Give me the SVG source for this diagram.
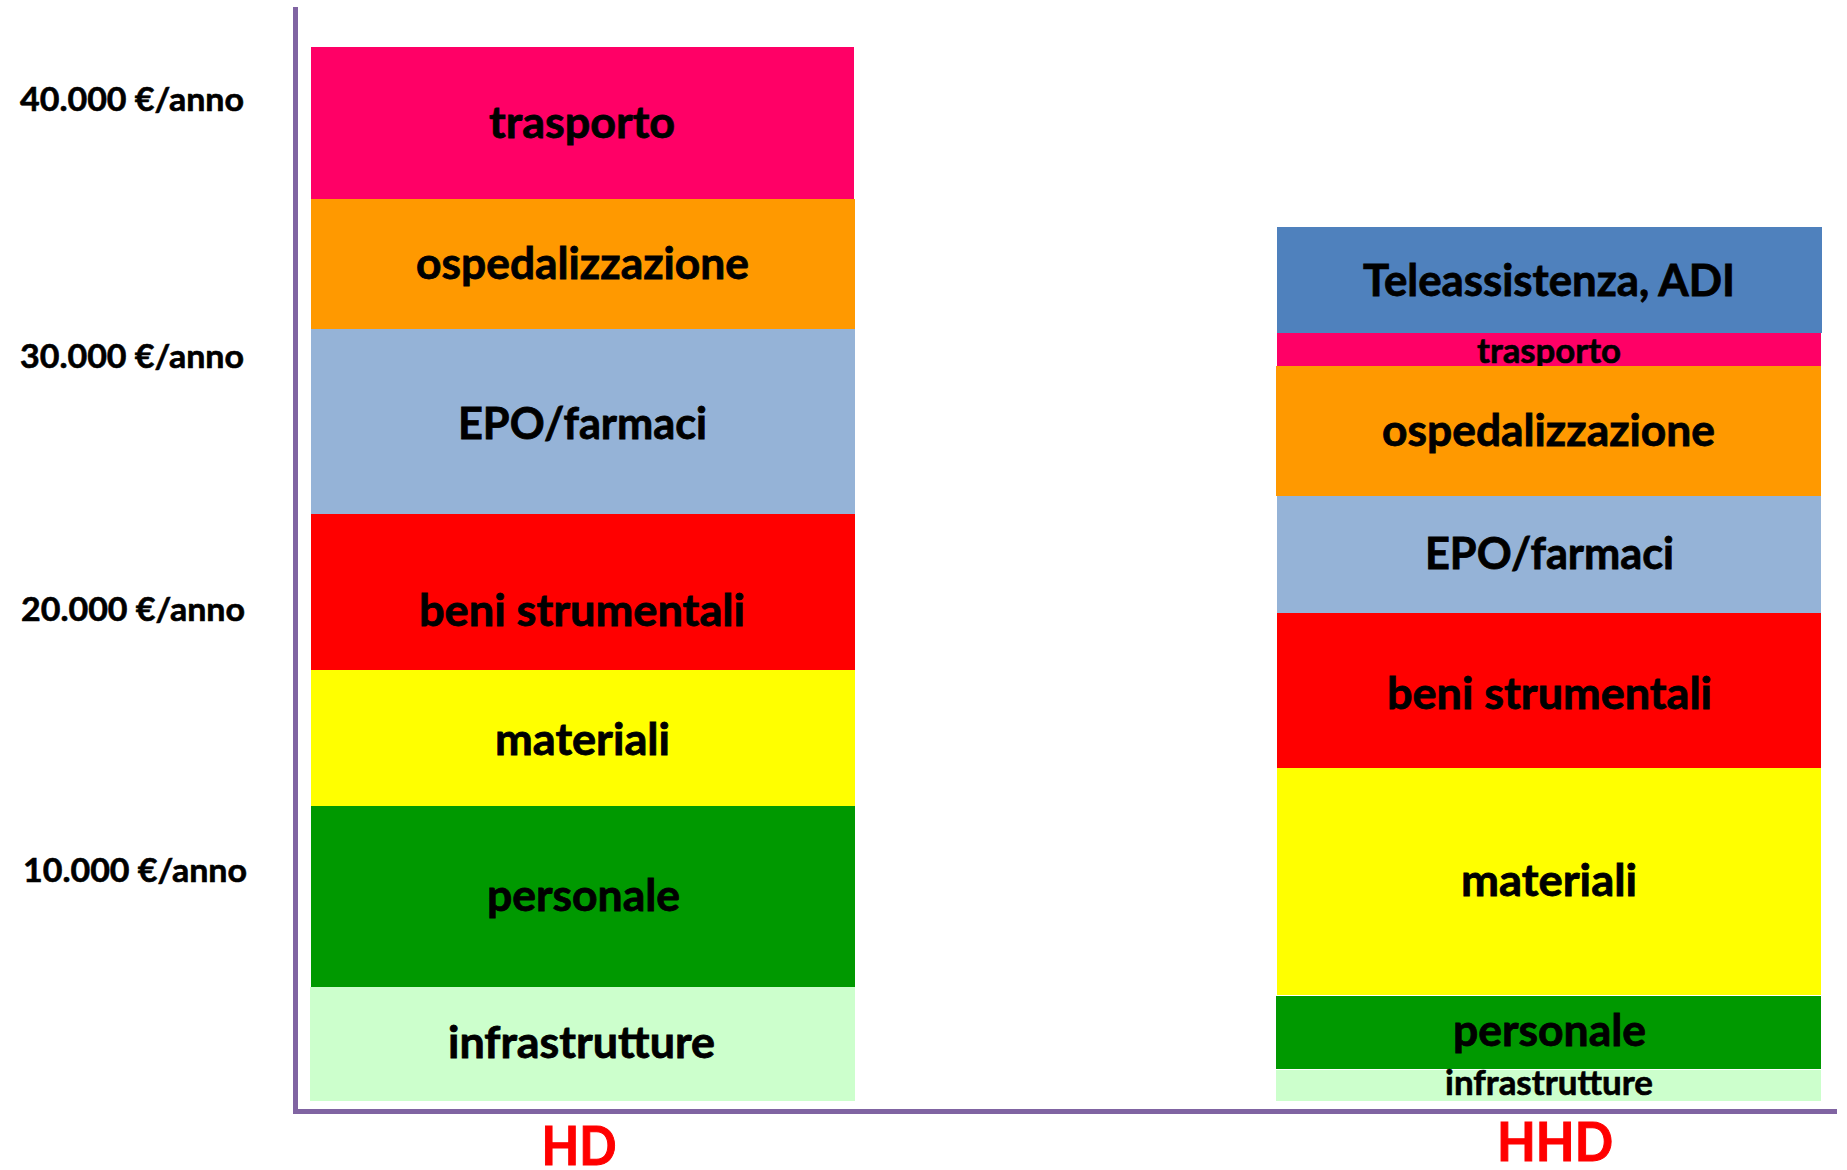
<svg xmlns="http://www.w3.org/2000/svg" width="1847" height="1170" viewBox="0 0 1847 1170">
  <style>
    .lbl { font-family: Lato, "Open Sans", "Liberation Sans", sans-serif; font-weight: bold; fill: #000; stroke: #000; stroke-width: 0.8px; text-anchor: middle; }
    .big { font-size: 44px; }
    .small { font-size: 34px; stroke-width: 0.6px; }
    .tick { font-family: Lato, "Open Sans", "Liberation Sans", sans-serif; font-weight: bold; font-size: 33px; fill: #000; stroke: #000; stroke-width: 0.6px; }
    .cat { font-family: Lato, "Open Sans", "Liberation Sans", sans-serif; font-weight: bold; font-size: 54px; fill: #FF0000; stroke: #FF0000; stroke-width: 1px; text-anchor: middle; }
    .axis { stroke: #8064A2; stroke-width: 5; fill: none; }
    .trasporto { fill: #FF0066; }
    .ospedalizzazione { fill: #FF9900; }
    .epo { fill: #95B3D7; }
    .beni { fill: #FF0000; }
    .materiali { fill: #FFFF00; }
    .personale { fill: #009900; }
    .infrastrutture { fill: #CCFFCC; }
    .tele { fill: #4F81BD; }
  </style>
  <rect width="1847" height="1170" fill="#FFFFFF"/>

  <!-- value scale -->
  <g id="scale">
    <text class="tick" x="20" y="111" textLength="224" lengthAdjust="spacingAndGlyphs">40.000 €/anno</text>
    <text class="tick" x="20" y="368" textLength="224" lengthAdjust="spacingAndGlyphs">30.000 €/anno</text>
    <text class="tick" x="21" y="621" textLength="224" lengthAdjust="spacingAndGlyphs">20.000 €/anno</text>
    <text class="tick" x="23" y="882" textLength="224" lengthAdjust="spacingAndGlyphs">10.000 €/anno</text>
  </g>

  <!-- HD stacked column -->
  <g id="hd">
    <g id="hd-trasporto">
      <rect class="trasporto" x="311" y="47" width="543" height="152"/>
      <text class="lbl big" x="582" y="138" textLength="186" lengthAdjust="spacingAndGlyphs">trasporto</text>
    </g>
    <g id="hd-ospedalizzazione">
      <rect class="ospedalizzazione" x="311" y="199" width="544" height="130"/>
      <text class="lbl big" x="582.5" y="279" textLength="333" lengthAdjust="spacingAndGlyphs">ospedalizzazione</text>
    </g>
    <g id="hd-epo">
      <rect class="epo" x="311" y="329" width="544" height="185"/>
      <text class="lbl big" x="582.5" y="439" textLength="249" lengthAdjust="spacingAndGlyphs">EPO/farmaci</text>
    </g>
    <g id="hd-beni">
      <rect class="beni" x="311" y="514" width="544" height="156"/>
      <text class="lbl big" x="582" y="626" textLength="326" lengthAdjust="spacingAndGlyphs">beni strumentali</text>
    </g>
    <g id="hd-materiali">
      <rect class="materiali" x="311" y="670" width="544" height="136"/>
      <text class="lbl big" x="582.5" y="755" textLength="175" lengthAdjust="spacingAndGlyphs">materiali</text>
    </g>
    <g id="hd-personale">
      <rect class="personale" x="311" y="806" width="544" height="181"/>
      <text class="lbl big" x="583.5" y="911" textLength="193" lengthAdjust="spacingAndGlyphs">personale</text>
    </g>
    <g id="hd-infrastrutture">
      <rect class="infrastrutture" x="310" y="987" width="545" height="114"/>
      <text class="lbl big" x="581.5" y="1058" textLength="267" lengthAdjust="spacingAndGlyphs">infrastrutture</text>
    </g>
  </g>

  <!-- HHD stacked column -->
  <g id="hhd">
    <g id="hhd-tele">
      <rect class="tele" x="1277" y="227" width="545" height="106"/>
      <text class="lbl big" x="1549" y="296" textLength="372" lengthAdjust="spacingAndGlyphs">Teleassistenza, ADI</text>
    </g>
    <g id="hhd-trasporto">
      <rect class="trasporto" x="1277" y="333" width="544" height="33"/>
      <text class="lbl small" x="1549" y="363" textLength="144" lengthAdjust="spacingAndGlyphs">trasporto</text>
    </g>
    <g id="hhd-ospedalizzazione">
      <rect class="ospedalizzazione" x="1276" y="366" width="545" height="130"/>
      <text class="lbl big" x="1548.5" y="446" textLength="333" lengthAdjust="spacingAndGlyphs">ospedalizzazione</text>
    </g>
    <g id="hhd-epo">
      <rect class="epo" x="1277" y="496" width="544" height="117"/>
      <text class="lbl big" x="1549.5" y="569" textLength="249" lengthAdjust="spacingAndGlyphs">EPO/farmaci</text>
    </g>
    <g id="hhd-beni">
      <rect class="beni" x="1277" y="613" width="544" height="155"/>
      <text class="lbl big" x="1549.5" y="709" textLength="325" lengthAdjust="spacingAndGlyphs">beni strumentali</text>
    </g>
    <g id="hhd-materiali">
      <rect class="materiali" x="1277" y="768" width="544" height="227"/>
      <text class="lbl big" x="1549" y="896" textLength="176" lengthAdjust="spacingAndGlyphs">materiali</text>
    </g>
    <g id="hhd-personale">
      <rect class="personale" x="1276" y="996" width="545" height="73"/>
      <text class="lbl big" x="1549.5" y="1046" textLength="193" lengthAdjust="spacingAndGlyphs">personale</text>
    </g>
    <g id="hhd-infrastrutture">
      <rect class="infrastrutture" x="1276" y="1070" width="545" height="31"/>
      <text class="lbl small" x="1549" y="1095" textLength="208" lengthAdjust="spacingAndGlyphs">infrastrutture</text>
    </g>
  </g>

  <!-- axes -->
  <g id="axes">
    <path class="axis" d="M295.5 7 V1111.5 H1837"/>
  </g>

  <!-- column captions -->
  <g id="captions">
    <text class="cat" x="579" y="1165" textLength="75" lengthAdjust="spacingAndGlyphs">HD</text>
    <text class="cat" x="1555" y="1161" textLength="116" lengthAdjust="spacingAndGlyphs">HHD</text>
  </g>
</svg>
